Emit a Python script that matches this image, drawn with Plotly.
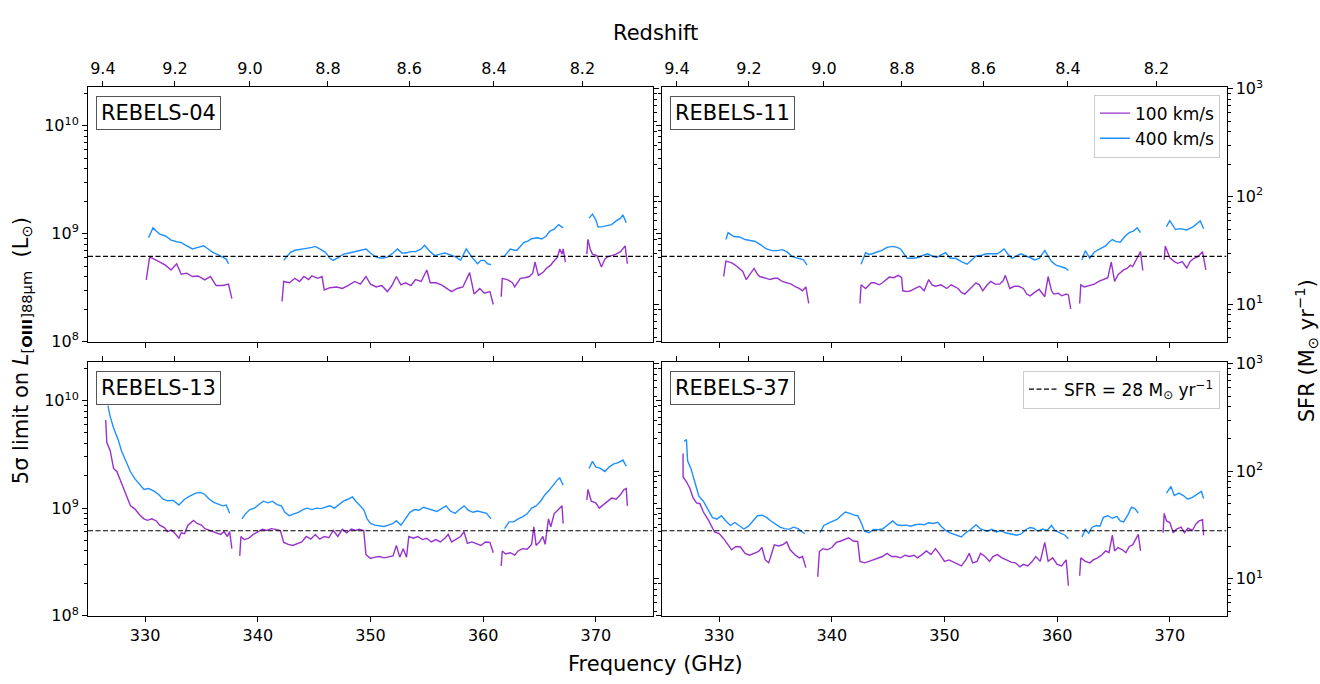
import plotly.graph_objects as go
import math

# ---------------- constants / axis values ----------------
REST_FREQ_GHZ = 3393.006          # [OIII]88um rest frequency
FREQ_RANGE = [324.93, 375.03]
LUM_LOG_RANGE = [8.0, 10.36]
L_PER_SFR = 2.2e7                 # L_sun per (M_sun/yr)
SFR_LIMIT = 28
UNIT = 1e8                        # luminosity values below are in 1e8 L_sun

FREQ_TICKS = [330, 340, 350, 360, 370]
REDSHIFT_TICKS = [9.4, 9.2, 9.0, 8.8, 8.6, 8.4, 8.2]
LUM_TICKS = [1e8, 1e9, 1e10]
LUM_TICKTEXT = ["10<sup>8</sup>", "10<sup>9</sup>", "10<sup>10</sup>"]
SFR_TICKS = [10, 100, 1000]
SFR_TICKTEXT = ["10<sup>1</sup>", "10<sup>2</sup>", "10<sup>3</sup>"]

PANEL_NAMES = ["REBELS-04", "REBELS-11", "REBELS-13", "REBELS-37"]
SERIES_NAMES = ["100 km/s", "400 km/s"]
COLORS = ["#9932CC", "#1E90FF"]

GAP = (None, None)

# (frequency GHz, 5-sigma limit in 1e8 L_sun)
R04_100 = [
    (330.1, 3.72), (330.4, 6.05), (330.8, 5.8), (331.3, 5.45), (331.8, 5.1), (332.3, 4.6), (332.8, 5.25),
    (333.2, 4.2), (333.7, 4.3), (334.2, 4.0), (334.7, 4.05), (335.3, 3.72), (335.8, 4.0), (336.3, 3.3),
    (336.9, 3.3), (337.4, 3.4), (337.7, 2.5),
    GAP,
    (342.15, 2.35), (342.3, 3.6), (342.8, 3.5), (343.3, 3.85), (343.7, 3.6), (344.1, 4.0), (344.5, 3.75),
    (344.8, 4.05), (345.3, 3.85), (345.7, 4.0), (345.9, 3.0), (346.4, 3.15), (347.0, 3.2), (347.5, 3.1),
    (348.0, 3.3), (348.6, 3.6), (349.1, 3.4), (349.6, 4.0), (350.0, 3.4), (350.5, 3.2), (351.0, 3.3),
    (351.5, 2.9), (351.9, 3.3), (352.3, 4.0), (352.7, 3.35), (353.1, 3.5), (353.6, 3.3), (354.0, 3.75),
    (354.5, 3.6), (355.0, 4.6), (355.3, 3.5), (355.8, 3.5), (356.3, 3.35), (356.8, 3.1), (357.2, 2.9),
    (357.7, 3.1), (358.2, 3.2), (358.8, 4.35), (359.2, 2.75), (359.7, 3.1), (360.1, 2.8), (360.6, 2.9),
    (360.9, 2.2),
    GAP,
    (361.6, 2.6), (361.7, 3.85), (362.2, 3.72), (362.6, 3.5), (362.8, 3.2), (363.3, 3.85), (363.7, 3.9),
    (364.1, 4.0), (364.4, 4.3), (364.6, 5.45), (364.9, 4.1), (365.3, 4.35), (365.6, 4.75), (366.0, 5.1),
    (366.2, 5.45), (366.6, 6.05), (366.8, 7.2), (367.0, 6.45), (367.1, 7.2), (367.3, 5.45),
    GAP,
    (369.2, 6.45), (369.3, 8.85), (369.5, 7.2), (369.7, 6.45), (370.1, 6.25), (370.5, 4.9), (370.8, 5.8),
    (371.0, 6.05), (371.4, 6.25), (371.8, 6.45), (372.2, 6.8), (372.6, 7.7), (372.8, 5.25),
]
R04_400 = [
    (330.3, 9.15), (330.7, 11.3), (331.0, 10.5), (331.3, 9.9), (331.8, 9.5), (332.3, 8.7), (332.8, 8.4),
    (333.2, 8.25), (333.7, 7.7), (334.2, 7.2), (334.7, 7.45), (335.2, 7.7), (335.6, 7.2), (336.0, 6.7),
    (336.5, 6.35), (336.9, 6.05), (337.2, 5.8), (337.4, 5.25),
    GAP,
    (342.3, 5.65), (342.9, 6.7), (343.3, 7.0), (343.8, 7.2), (344.3, 7.3), (344.8, 7.45), (345.1, 7.6),
    (345.5, 7.2), (346.0, 6.7), (346.4, 5.9), (346.7, 5.65), (347.2, 6.05), (347.6, 6.45), (348.1, 6.6),
    (348.6, 6.8), (349.1, 7.0), (349.6, 7.2), (350.0, 6.6), (350.5, 6.05), (351.0, 5.9), (351.5, 6.05),
    (352.0, 6.6), (352.4, 7.2), (352.8, 6.6), (353.1, 6.6), (353.6, 6.8), (354.0, 6.8), (354.5, 7.2),
    (354.8, 7.8), (355.3, 6.8), (355.7, 6.25), (356.2, 6.45), (356.6, 6.6), (357.1, 6.35), (357.6, 6.05),
    (358.0, 5.65), (358.5, 7.2), (359.0, 6.05), (359.5, 5.25), (359.8, 5.65), (360.1, 5.65), (360.4, 5.25),
    (360.7, 5.15),
    GAP,
    (361.9, 6.17), (362.4, 7.2), (362.8, 7.0), (363.0, 7.0), (363.6, 8.25), (364.0, 8.55), (364.3, 8.95),
    (364.8, 9.15), (365.2, 8.9), (365.6, 9.5), (365.9, 10.5), (366.3, 11.0), (366.7, 12.1), (367.1, 11.3),
    GAP,
    (369.4, 13.9), (369.7, 15.1), (370.0, 13.4), (370.2, 11.5), (370.6, 11.6), (371.0, 11.8), (371.4, 12.1),
    (371.8, 13.1), (372.2, 13.9), (372.4, 14.9), (372.7, 12.6),
]

R11_100 = [
    (330.4, 4.0), (330.6, 5.55), (331.0, 5.4), (331.2, 5.3), (331.6, 4.95), (331.8, 4.75), (332.1, 4.45),
    (332.4, 3.75), (332.8, 4.3), (333.1, 4.75), (333.4, 4.2), (333.6, 4.0), (334.0, 3.9), (334.5, 3.75),
    (334.9, 3.85), (335.2, 3.85), (335.6, 3.6), (336.0, 3.5), (336.4, 3.4), (336.8, 3.2), (337.1, 3.1),
    (337.4, 2.95), (337.7, 3.2), (337.95, 2.25),
    GAP,
    (342.5, 2.25), (342.6, 3.35), (343.0, 3.1), (343.2, 3.25), (343.5, 3.5), (343.8, 3.5), (344.2, 3.35),
    (344.5, 3.5), (344.8, 3.75), (345.1, 3.95), (345.5, 3.9), (345.9, 4.1), (346.2, 3.9), (346.3, 2.95),
    (346.7, 2.9), (347.0, 2.95), (347.4, 3.1), (347.8, 3.25), (348.2, 2.95), (348.6, 3.75), (348.9, 3.35),
    (349.2, 3.25), (349.7, 3.35), (350.2, 3.1), (350.6, 3.35), (351.2, 3.1), (351.5, 2.85), (351.8, 2.75),
    (352.3, 3.1), (352.8, 3.5), (353.1, 3.35), (353.4, 2.95), (353.8, 3.35), (354.1, 3.6), (354.5, 3.4),
    (354.9, 3.4), (355.2, 3.65), (355.4, 4.1), (355.8, 3.1), (356.2, 3.25), (356.6, 3.25), (357.0, 3.1),
    (357.3, 2.75), (357.6, 2.65), (358.0, 2.85), (358.4, 3.05), (358.9, 2.6), (359.2, 4.0), (359.5, 2.95),
    (359.7, 2.75), (360.1, 2.8), (360.4, 2.65), (360.8, 2.75), (361.0, 2.7), (361.2, 2.0),
    GAP,
    (362.0, 2.25), (362.1, 3.35), (362.4, 3.2), (362.7, 3.25), (363.0, 3.35), (363.3, 3.4), (363.7, 3.6),
    (364.1, 3.75), (364.5, 3.9), (364.8, 5.45), (365.0, 3.9), (365.1, 3.6), (365.4, 4.15), (365.6, 4.3),
    (365.9, 4.6), (366.2, 4.75), (366.5, 5.1), (366.7, 4.95), (367.0, 5.7), (367.3, 6.55), (367.4, 6.8),
    (367.6, 4.55),
    GAP,
    (369.5, 5.7), (369.6, 7.65), (369.8, 6.75), (370.0, 5.95), (370.4, 5.5), (370.7, 5.3), (371.1, 5.5),
    (371.5, 4.8), (371.8, 5.5), (372.1, 5.85), (372.5, 6.1), (372.9, 6.8), (373.2, 4.6),
]
R11_400 = [
    (330.6, 8.8), (330.8, 10.2), (331.3, 9.4), (331.8, 9.3), (332.3, 8.8), (332.8, 8.6), (333.2, 8.45),
    (333.7, 7.85), (334.2, 7.2), (334.7, 6.95), (335.2, 6.95), (335.6, 7.1), (336.0, 6.8), (336.5, 6.1),
    (337.1, 5.85), (337.5, 5.7), (337.8, 5.1),
    GAP,
    (342.6, 5.2), (343.0, 6.65), (343.3, 6.4), (343.6, 6.5), (344.0, 6.75), (344.4, 6.95), (344.9, 7.45),
    (345.4, 7.6), (345.8, 7.45), (346.1, 7.2), (346.4, 6.5), (346.7, 5.9), (347.2, 5.9), (347.7, 6.0),
    (348.1, 6.3), (348.5, 6.5), (348.9, 6.2), (349.3, 6.0), (349.7, 6.35), (350.1, 6.65), (350.5, 5.9),
    (351.0, 5.9), (351.5, 5.5), (352.0, 5.2), (352.4, 5.65), (352.8, 6.2), (353.3, 6.3), (353.7, 6.5),
    (354.2, 6.5), (354.7, 6.5), (355.3, 7.2), (355.6, 6.5), (356.0, 5.9), (356.4, 6.2), (356.8, 6.5),
    (357.2, 6.2), (357.6, 6.0), (358.0, 5.7), (358.4, 5.9), (358.9, 6.95), (359.2, 6.1), (359.5, 5.5),
    (359.9, 5.1), (360.3, 4.95), (360.7, 4.8), (361.0, 4.55),
    GAP,
    (362.2, 5.7), (362.5, 6.95), (362.9, 5.9), (363.1, 6.3), (363.3, 6.75), (363.8, 7.2), (364.3, 7.7),
    (364.6, 8.3), (364.9, 8.8), (365.2, 8.45), (365.6, 8.3), (366.0, 9.4), (366.4, 10.2), (366.8, 10.6),
    (367.1, 11.3), (367.4, 10.2),
    GAP,
    (369.7, 11.6), (370.0, 13.2), (370.5, 10.9), (370.9, 11.1), (371.5, 10.8), (371.8, 11.1), (372.1, 11.6),
    (372.5, 12.6), (372.7, 13.1), (373.0, 11.1),
]

R13_100 = [
    (326.5, 66.0), (326.6, 40.7), (326.9, 34.2), (327.2, 23.4), (327.5, 21.8), (327.8, 18.3), (328.1, 14.9),
    (328.4, 12.5), (328.7, 10.5), (329.1, 9.8), (329.5, 8.7), (329.9, 7.95), (330.2, 7.7), (330.6, 7.95),
    (331.0, 7.6), (331.3, 6.95), (331.7, 6.6), (332.0, 6.05), (332.3, 6.25), (332.6, 5.9), (333.0, 5.25),
    (333.2, 5.9), (333.5, 5.8), (333.8, 6.95), (334.0, 7.25), (334.3, 7.7), (334.6, 7.2), (335.0, 6.95),
    (335.3, 6.45), (335.7, 6.25), (336.0, 6.05), (336.4, 5.9), (336.7, 5.7), (337.0, 6.05), (337.3, 5.45),
    (337.5, 6.05), (337.7, 4.2),
    GAP,
    (338.4, 3.6), (338.5, 5.45), (338.8, 5.1), (339.2, 5.25), (339.6, 5.7), (340.0, 6.0), (340.4, 6.35),
    (340.8, 6.2), (341.2, 6.45), (341.6, 6.35), (342.0, 6.2), (342.3, 4.8), (342.7, 4.6), (343.1, 4.5),
    (343.5, 4.65), (343.9, 4.85), (344.3, 5.45), (344.7, 5.15), (345.1, 5.7), (345.5, 5.15), (345.9, 5.45),
    (346.3, 5.3), (346.7, 6.2), (347.1, 5.45), (347.5, 6.35), (347.9, 5.9), (348.3, 6.4), (348.7, 6.2),
    (349.0, 6.35), (349.4, 6.2), (349.6, 3.7), (350.0, 3.4), (350.4, 3.5), (350.8, 3.55), (351.2, 3.45),
    (351.6, 3.5), (352.0, 3.6), (352.3, 4.5), (352.6, 3.5), (352.9, 4.2), (353.2, 3.5), (353.4, 5.45),
    (353.8, 5.25), (354.2, 5.45), (354.6, 5.1), (355.0, 5.25), (355.4, 4.85), (355.8, 5.1), (356.2, 4.85),
    (356.6, 5.25), (356.9, 5.7), (357.2, 4.85), (357.6, 5.1), (358.0, 5.45), (358.3, 6.05), (358.6, 4.7),
    (359.0, 4.85), (359.4, 4.7), (359.8, 4.5), (360.2, 4.85), (360.6, 4.8), (360.9, 3.85),
    GAP,
    (361.6, 2.9), (361.7, 4.0), (362.0, 3.75), (362.4, 3.85), (362.8, 3.65), (363.1, 4.0), (363.5, 4.2),
    (363.9, 4.15), (364.3, 4.6), (364.5, 6.7), (364.7, 4.5), (365.0, 4.85), (365.3, 5.45), (365.5, 4.6),
    (365.8, 7.95), (366.0, 6.7), (366.3, 8.85), (366.7, 9.8), (367.0, 10.5), (367.1, 7.2),
    GAP,
    (369.2, 11.9), (369.3, 14.9), (369.6, 11.6), (370.0, 11.2), (370.3, 10.0), (370.7, 10.8), (371.1, 11.6),
    (371.4, 12.4), (371.8, 12.1), (372.2, 13.4), (372.5, 14.9), (372.7, 15.2), (372.8, 10.5),
]
R13_400 = [
    (326.7, 90.0), (326.9, 71.0), (327.2, 55.7), (327.6, 43.6), (327.9, 34.2), (328.3, 26.8), (328.7, 21.8),
    (329.1, 18.7), (329.5, 16.5), (329.9, 14.9), (330.3, 15.2), (330.8, 14.4), (331.2, 13.4), (331.6, 12.1),
    (332.0, 11.7), (332.5, 11.8), (333.0, 10.7), (333.5, 12.1), (334.0, 13.0), (334.5, 13.8), (334.9, 14.0),
    (335.3, 13.4), (335.7, 12.1), (336.1, 11.3), (336.5, 10.9), (336.9, 10.5), (337.2, 10.7), (337.5, 8.95),
    GAP,
    (338.6, 7.95), (338.9, 8.85), (339.3, 9.7), (339.7, 10.0), (340.1, 10.8), (340.5, 11.6), (340.9, 11.2),
    (341.3, 11.6), (341.7, 10.8), (342.1, 10.5), (342.4, 9.15), (342.8, 8.5), (343.2, 8.85), (343.6, 9.15),
    (344.0, 9.7), (344.4, 10.0), (344.8, 9.7), (345.2, 10.0), (345.6, 9.9), (346.0, 10.2), (346.4, 10.5),
    (346.8, 10.0), (347.2, 10.8), (347.6, 11.6), (348.0, 12.1), (348.4, 12.7), (348.7, 11.6), (349.0, 10.8),
    (349.4, 9.7), (349.7, 7.95), (350.0, 7.2), (350.4, 6.95), (350.8, 6.8), (351.2, 6.75), (351.6, 6.95),
    (352.0, 7.2), (352.3, 7.65), (352.7, 6.95), (353.1, 7.95), (353.5, 9.15), (353.9, 9.7), (354.3, 9.55),
    (354.7, 10.2), (355.1, 9.9), (355.5, 9.55), (355.9, 9.3), (356.3, 9.9), (356.7, 10.5), (357.1, 9.4),
    (357.5, 8.95), (357.9, 9.7), (358.3, 10.5), (358.7, 9.55), (359.1, 9.15), (359.5, 9.4), (359.9, 9.15),
    (360.3, 8.95), (360.7, 7.95),
    GAP,
    (361.9, 6.45), (362.3, 7.45), (362.7, 7.45), (363.1, 7.95), (363.5, 8.3), (363.9, 8.85), (364.3, 10.0),
    (364.7, 10.5), (365.1, 11.6), (365.5, 13.4), (365.8, 14.4), (366.2, 16.5), (366.6, 18.4), (366.8, 19.1),
    (367.1, 16.3),
    GAP,
    (369.4, 23.4), (369.7, 27.2), (370.0, 24.2), (370.4, 23.4), (370.8, 21.9), (371.2, 24.2), (371.6, 25.8),
    (372.0, 26.5), (372.4, 28.0), (372.7, 24.6),
]

R37_100 = [
    (326.8, 32.2), (326.8, 19.5), (327.1, 17.6), (327.4, 15.3), (327.7, 12.4), (328.0, 11.2), (328.3, 11.0),
    (328.6, 9.2), (329.0, 7.9), (329.3, 6.9), (329.6, 6.0), (330.0, 5.8), (330.4, 5.2), (330.8, 4.55),
    (331.1, 4.1), (331.5, 4.4), (331.9, 4.35), (332.3, 3.8), (332.7, 3.65), (333.1, 3.8), (333.5, 3.95),
    (333.8, 4.3), (334.1, 3.3), (334.4, 3.1), (334.7, 3.8), (334.9, 4.55), (335.3, 4.45), (335.7, 4.6),
    (336.0, 4.85), (336.3, 4.1), (336.7, 3.7), (337.1, 3.45), (337.4, 3.55), (337.7, 2.8),
    GAP,
    (338.75, 2.3), (338.9, 3.95), (339.2, 4.2), (339.6, 4.1), (340.0, 4.3), (340.4, 4.8), (340.8, 4.95),
    (341.2, 5.15), (341.5, 5.3), (341.9, 4.95), (342.3, 4.9), (342.5, 3.2), (342.9, 3.1), (343.3, 3.2),
    (343.7, 3.3), (344.1, 3.45), (344.5, 3.55), (344.9, 3.8), (345.3, 3.55), (345.7, 3.55), (346.1, 3.45),
    (346.5, 3.65), (346.9, 3.55), (347.3, 3.65), (347.6, 3.45), (348.0, 3.7), (348.4, 4.0), (348.8, 3.7),
    (349.2, 4.2), (349.6, 3.7), (350.0, 3.2), (350.4, 3.3), (350.8, 3.15), (351.1, 3.0), (351.5, 2.9),
    (351.9, 3.3), (352.2, 3.8), (352.5, 3.1), (352.9, 3.2), (353.2, 3.8), (353.6, 3.55), (354.0, 3.2),
    (354.3, 3.55), (354.7, 3.7), (355.1, 3.45), (355.5, 3.3), (355.9, 3.15), (356.3, 3.1), (356.7, 2.85),
    (357.0, 3.0), (357.4, 2.9), (357.8, 3.2), (358.1, 3.55), (358.5, 3.2), (358.9, 4.8), (359.2, 3.2),
    (359.6, 3.45), (360.0, 3.0), (360.4, 2.9), (360.8, 3.3), (361.0, 1.9),
    GAP,
    (362.0, 2.35), (362.1, 3.45), (362.5, 3.2), (362.9, 3.1), (363.2, 3.3), (363.6, 3.45), (364.0, 3.7),
    (364.3, 4.0), (364.6, 3.85), (364.9, 5.6), (365.1, 4.0), (365.4, 4.3), (365.8, 4.1), (366.1, 3.85),
    (366.4, 4.4), (366.7, 4.55), (367.0, 5.2), (367.2, 5.7), (367.4, 4.0),
    GAP,
    (369.4, 5.9), (369.5, 8.95), (369.7, 7.6), (370.0, 7.35), (370.3, 5.9), (370.6, 6.4), (371.0, 6.65),
    (371.3, 5.9), (371.6, 6.5), (372.0, 6.2), (372.3, 7.1), (372.6, 7.6), (372.9, 7.8), (373.0, 5.6),
]
R37_400 = [
    (326.9, 41.8), (327.1, 43.5), (327.2, 27.6), (327.5, 23.2), (327.8, 18.2), (328.2, 12.9), (328.6, 11.6),
    (329.0, 9.75), (329.4, 8.2), (329.8, 7.9), (330.2, 8.5), (330.6, 7.6), (331.0, 6.9), (331.4, 7.35),
    (331.8, 6.9), (332.2, 6.4), (332.6, 6.8), (333.0, 7.6), (333.4, 8.5), (333.8, 8.6), (334.2, 8.2),
    (334.6, 7.6), (335.0, 7.1), (335.4, 6.65), (335.8, 6.45), (336.2, 6.35), (336.6, 6.65), (337.0, 6.45),
    (337.3, 6.1), (337.6, 5.8),
    GAP,
    (338.95, 5.9), (339.3, 6.9), (339.7, 7.25), (340.1, 7.6), (340.5, 7.9), (340.8, 8.5), (341.2, 9.2),
    (341.6, 8.95), (342.0, 8.6), (342.3, 8.5), (342.6, 7.35), (342.9, 6.1), (343.3, 5.9), (343.7, 6.35),
    (344.1, 6.3), (344.5, 6.4), (344.9, 6.9), (345.4, 7.6), (345.8, 7.0), (346.2, 6.9), (346.6, 6.95),
    (347.0, 6.8), (347.4, 7.0), (347.8, 7.1), (348.2, 7.0), (348.6, 7.3), (349.0, 7.2), (349.4, 7.4),
    (349.7, 6.8), (350.1, 6.2), (350.5, 5.9), (350.9, 5.7), (351.2, 5.55), (351.5, 5.4), (351.9, 5.9),
    (352.3, 6.3), (352.8, 7.0), (353.2, 6.4), (353.8, 6.1), (354.2, 6.35), (354.6, 6.0), (355.0, 6.2),
    (355.4, 5.9), (355.8, 5.8), (356.1, 5.7), (356.4, 5.6), (356.8, 5.75), (357.2, 6.3), (357.6, 6.6),
    (357.9, 6.5), (358.3, 6.1), (358.7, 6.4), (359.1, 6.2), (359.5, 6.9), (359.8, 6.2), (360.1, 6.0),
    (360.4, 5.8), (360.7, 5.6), (361.0, 5.2),
    GAP,
    (362.2, 5.4), (362.5, 6.35), (362.8, 5.85), (363.1, 6.65), (363.5, 6.9), (363.8, 6.8), (364.1, 8.2),
    (364.5, 8.5), (364.9, 8.05), (365.3, 8.4), (365.6, 7.6), (365.9, 7.45), (366.3, 8.75), (366.6, 10.2),
    (366.9, 9.9), (367.2, 9.0),
    GAP,
    (369.7, 13.8), (370.1, 15.9), (370.4, 13.1), (370.8, 13.8), (371.2, 13.1), (371.6, 12.1), (372.0, 12.6),
    (372.5, 13.8), (372.8, 14.3), (373.0, 12.3),
]

PANEL_DATA = [(R04_100, R04_400), (R11_100, R11_400), (R13_100, R13_400), (R37_100, R37_400)]

# ---------------- layout geometry (pixels) ----------------
W, H = 1320, 684
COL_X = [(88, 652.5), (662, 1226.5)]
ROW_Y = [(80, 342), (363, 624)]
FONT = "DejaVu Sans"


def px_x(p):
    return p / W


def px_y(p):
    return 1 - p / H


def ref(prefix, n):
    return prefix if n == 1 else f"{prefix}{n}"


def key(prefix, n):
    return f"{prefix}axis" if n == 1 else f"{prefix}axis{n}"


def split(pairs):
    xs = [p[0] for p in pairs]
    ys = [None if p[1] is None else p[1] * UNIT for p in pairs]
    return xs, ys


fig = go.Figure()
layout_axes = {}
annotations = []

sfr_log_range = [LUM_LOG_RANGE[0] - math.log10(L_PER_SFR), LUM_LOG_RANGE[1] - math.log10(L_PER_SFR)]
lum_minor = [m * 10 ** e for e in (8, 9) for m in range(2, 10)] + [2e10]
sfr_minor = [m * 10 ** e for e in (0, 1, 2) for m in range(2, 10) if m * 10 ** e > 10 ** sfr_log_range[0]]
z_tickvals = [REST_FREQ_GHZ / (1 + z) for z in REDSHIFT_TICKS]
z_ticktext = [f"{z:.1f}" for z in REDSHIFT_TICKS]

tickfont = dict(family=FONT, size=16, color="black")
common = dict(showgrid=False, zeroline=False, showline=True, linecolor="black", linewidth=1,
              ticks="outside", ticklen=5, tickwidth=1, tickcolor="black", tickfont=tickfont)

for p in range(4):
    row, col = divmod(p, 2)
    xb, yl, xt, yr = p + 1, p + 1, p + 5, p + 5
    x0, x1 = COL_X[col]
    yt, ybot = ROW_Y[row]

    layout_axes[key("x", xb)] = dict(domain=[px_x(x0), px_x(x1)], anchor=ref("y", yl), range=FREQ_RANGE,
                                     tickmode="array", tickvals=FREQ_TICKS, showticklabels=(row == 1), **common)
    layout_axes[key("y", yl)] = dict(domain=[px_y(ybot), px_y(yt)], anchor=ref("x", xb), type="log",
                                     range=LUM_LOG_RANGE, tickmode="array", tickvals=LUM_TICKS,
                                     ticktext=LUM_TICKTEXT, showticklabels=(col == 0),
                                     minor=dict(tickmode="array", tickvals=lum_minor, ticks="outside",
                                                ticklen=3, tickwidth=1, tickcolor="black", showgrid=False),
                                     **common)
    layout_axes[key("x", xt)] = dict(overlaying=ref("x", xb), side="top", anchor=ref("y", yl), range=FREQ_RANGE,
                                     tickmode="array", tickvals=z_tickvals, ticktext=z_ticktext,
                                     showticklabels=(row == 0), **common)
    layout_axes[key("y", yr)] = dict(overlaying=ref("y", yl), side="right", anchor=ref("x", xb), type="log",
                                     range=sfr_log_range, tickmode="array", tickvals=SFR_TICKS,
                                     ticktext=SFR_TICKTEXT, showticklabels=(col == 1),
                                     minor=dict(tickmode="array", tickvals=sfr_minor, ticks="outside",
                                                ticklen=3, tickwidth=1, tickcolor="black", showgrid=False),
                                     **common)

    for s, series in enumerate(PANEL_DATA[p]):
        xs, ys = split(series)
        fig.add_trace(go.Scatter(x=xs, y=ys, mode="lines", name=SERIES_NAMES[s],
                                 line=dict(color=COLORS[s], width=1.4), connectgaps=False,
                                 xaxis=ref("x", xb), yaxis=ref("y", yl),
                                 showlegend=(p == 1), legend="legend"))

    fig.add_trace(go.Scatter(x=FREQ_RANGE, y=[SFR_LIMIT, SFR_LIMIT], mode="lines",
                             name=f"SFR = {SFR_LIMIT} M<sub>⊙</sub> yr<sup>−1</sup>",
                             line=dict(color="black", width=1.2, dash="5px,2.5px"),
                             xaxis=ref("x", xt), yaxis=ref("y", yr),
                             showlegend=(p == 3), legend="legend2"))

    annotations.append(dict(text=PANEL_NAMES[p], xref="paper", yref="paper",
                            x=px_x(x0 + 8), y=px_y(yt + 9), xanchor="left", yanchor="top",
                            showarrow=False, font=dict(family=FONT, size=21, color="black"),
                            bgcolor="white", bordercolor="#555555", borderwidth=1, borderpad=4))

title_font = dict(family=FONT, size=21, color="black")
annotations += [
    dict(text="Redshift", xref="paper", yref="paper", x=px_x(655), y=px_y(25), showarrow=False,
         xanchor="center", yanchor="middle", font=title_font),
    dict(text="Frequency (GHz)", xref="paper", yref="paper", x=px_x(655), y=px_y(674), showarrow=False,
         xanchor="center", yanchor="middle", font=title_font),
    dict(text="5σ limit on <i>L</i><sub>[<b>OIII</b>]88μm</sub>  (L<sub>⊙</sub>)", xref="paper", yref="paper",
         x=px_x(22), y=px_y(352), showarrow=False, textangle=-90, xanchor="center", yanchor="middle",
         font=title_font),
    dict(text="SFR (M<sub>⊙</sub> yr<sup>−1</sup>)", xref="paper", yref="paper",
         x=px_x(1306), y=px_y(352), showarrow=False, textangle=-90, xanchor="center", yanchor="middle",
         font=title_font),
]

legend_style = dict(xref="paper", yref="paper", xanchor="right", yanchor="top",
                    bgcolor="rgba(255,255,255,0.8)", bordercolor="#cccccc", borderwidth=1,
                    font=dict(family=FONT, size=17, color="black"))

fig.update_layout(
    width=W, height=H, margin=dict(l=0, r=0, t=0, b=0),
    paper_bgcolor="white", plot_bgcolor="white",
    font=dict(family=FONT, size=16, color="black"),
    annotations=annotations,
    legend=dict(x=px_x(1220), y=px_y(88), **legend_style),
    legend2=dict(x=px_x(1220), y=px_y(372), **legend_style),
    **layout_axes,
)

fig.write_html("out.html")
